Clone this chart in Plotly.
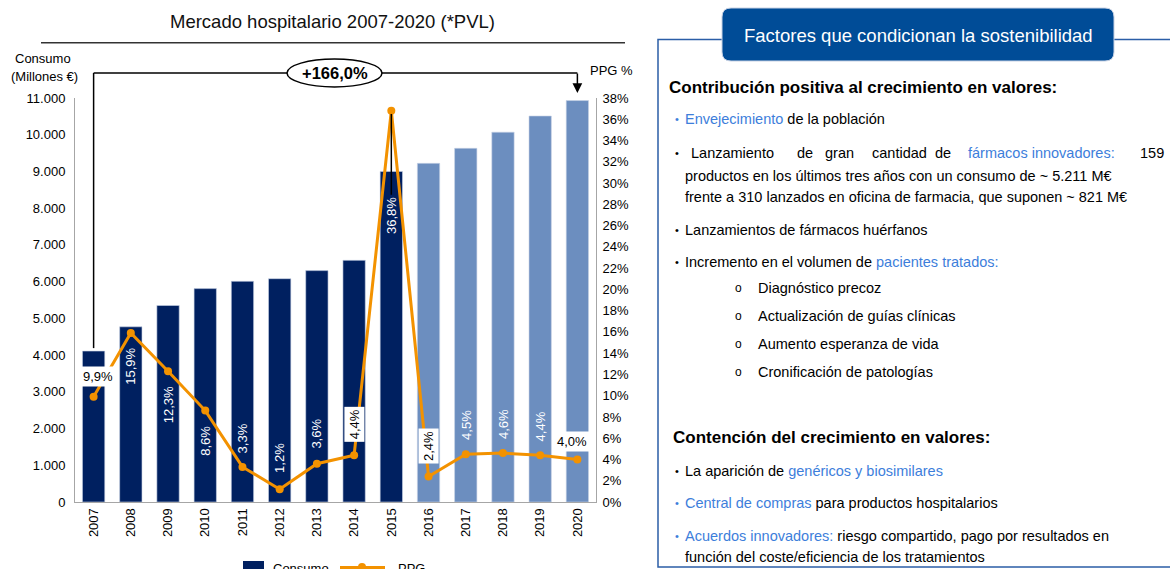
import plotly.graph_objects as go

# ---------------- data ----------------
years = ["2007", "2008", "2009", "2010", "2011", "2012", "2013",
         "2014", "2015", "2016", "2017", "2018", "2019", "2020"]
consumo = [4110, 4770, 5350, 5810, 6010, 6080, 6300,
           6580, 9000, 9220, 9630, 10070, 10510, 10930]
ppg = [9.9, 15.9, 12.3, 8.6, 3.3, 1.2, 3.6,
       4.4, 36.8, 2.4, 4.5, 4.6, 4.4, 4.0]
is_forecast = [False, False, False, False, False, False, False,
               False, False, True, True, True, True, True]
left_ticks = [0, 1000, 2000, 3000, 4000, 5000, 6000, 7000, 8000, 9000, 10000, 11000]
right_ticks = [0, 2, 4, 6, 8, 10, 12, 14, 16, 18, 20, 22, 24, 26, 28, 30, 32, 34, 36, 38]
growth_label = "+166,0%"

# ---------------- style ----------------
W, H = 1170, 569
FONT = "Liberation Sans, Arial, sans-serif"
NAVY = "#002060"
LIGHT = "#6C8EBF"
ORANGE = "#F39200"
AXIS = "#A6A6A6"
BLUE_TXT = "#3D7EDB"
PANEL = "#2B5EA7"
HEADER = "#004C97"


def P(x):
    return x / W


def Q(y):
    return 1 - y / H


fig = go.Figure()

fig.add_trace(go.Bar(
    x=years, y=consumo, width=0.6,
    marker=dict(color=[LIGHT if f else NAVY for f in is_forecast],
                line=dict(width=0.6, color="#C9D4E6")),
    name="Consumo", showlegend=False, hoverinfo="skip"))

fig.add_trace(go.Scatter(
    x=years, y=ppg, yaxis="y2", mode="lines+markers", name="PPG",
    line=dict(color=ORANGE, width=3), marker=dict(color=ORANGE, size=8),
    showlegend=False, hoverinfo="skip"))

annotations = []
shapes = []


def pa(x, y, s, size=13, color="black", xanchor="center", yanchor="middle", **kw):
    d = dict(x=P(x), y=Q(y), xref="paper", yref="paper", text=s, showarrow=False,
             xanchor=xanchor, yanchor=yanchor,
             font=dict(family=FONT, size=size, color=color))
    d.update(kw)
    annotations.append(d)


# ---- growth labels on bars ----
# (horizontal?, boxed?, vertical shift in px, horizontal shift in px)
label_place = [
    (True, True, 20, 4), (False, False, -33, 0), (False, False, -34, 0),
    (False, False, -30, 0), (False, False, 29, 0), (False, False, 31, 0),
    (False, False, 30, 0), (False, True, 31, 0), (False, False, -105, 0),
    (False, True, 30, 0), (False, False, 29, 0), (False, False, 29, 0),
    (False, False, 29, 0), (True, True, 18, -5)]
for i, v in enumerate(ppg):
    horiz, boxed, ys, xs = label_place[i]
    txt = f"{v:.1f}".replace(".", ",") + "%"
    annotations.append(dict(
        x=i, y=v, xref="x", yref="y2", text=txt, showarrow=False,
        xanchor="center", yanchor="middle",
        textangle=0 if horiz else -90, yshift=ys, xshift=xs,
        font=dict(family=FONT, size=13, color="black" if boxed else "white"),
        bgcolor="white" if boxed else "rgba(0,0,0,0)", borderpad=2))

# leader line at 2015 peak
shapes.append(dict(type="line", xref="x", yref="y2", x0=8, x1=8,
                   y0=ppg[8] - 0.3, y1=ppg[8] - 7.9,
                   line=dict(color="black", width=1.5)))

# ---- growth bracket ----
last = len(years) - 1
shapes.append(dict(type="line", xref="x", yref="y", x0=0, x1=0,
                   y0=consumo[0] + 80, y1=11000, line=dict(color="black", width=1.5)))
shapes.append(dict(type="line", xref="x", yref="paper", x0=0, x1=0,
                   y0=Q(98), y1=Q(73), line=dict(color="black", width=1.5)))
shapes.append(dict(type="line", xref="x", yref="paper", x0=0, x1=last,
                   y0=Q(73), y1=Q(73), line=dict(color="black", width=1.5)))
annotations.append(dict(x=last, y=Q(93), xref="x", yref="paper", text="",
                        showarrow=True, ax=0, ay=-21, arrowhead=2, arrowsize=1.3,
                        arrowwidth=1.5, arrowcolor="black"))
shapes.append(dict(type="circle", xref="paper", yref="paper",
                   x0=P(287), x1=P(382), y0=Q(87), y1=Q(59),
                   fillcolor="white", line=dict(color="black", width=1.5)))
pa(334.5, 73, f"<b>{growth_label}</b>", size=16.5)

# ---- title, axis titles ----
pa(332, 22, "Mercado hospitalario 2007-2020 (*PVL)", size=18.5, color="#111111")
shapes.append(dict(type="line", xref="paper", yref="paper", x0=P(41), x1=P(625),
                   y0=Q(42.7), y1=Q(42.7), line=dict(color="#333333", width=1.5)))
pa(13, 58, "Consumo", xanchor="left")
pa(9, 76, "(Millones €)", xanchor="left")
pa(611, 70, "PPG %")

# ---- legend (cut at the bottom edge) ----
shapes.append(dict(type="rect", xref="paper", yref="paper", x0=P(243), x1=P(264),
                   y0=Q(578), y1=Q(561), fillcolor=NAVY, line=dict(width=0)))
pa(271, 559, "Consumo", xanchor="left", yanchor="top")
shapes.append(dict(type="line", xref="paper", yref="paper", x0=P(340), x1=P(385),
                   y0=Q(568), y1=Q(568), line=dict(color=ORANGE, width=4)))
shapes.append(dict(type="circle", xref="paper", yref="paper", x0=P(358), x1=P(366),
                   y0=Q(571), y1=Q(563), fillcolor=ORANGE, line=dict(width=0)))
pa(396, 559, "PPG", xanchor="left", yanchor="top")

# ---- right panel ----
shapes.append(dict(type="rect", xref="paper", yref="paper", x0=P(658), x1=P(1185),
                   y0=Q(567), y1=Q(39.5), line=dict(color=PANEL, width=1.5),
                   fillcolor="rgba(0,0,0,0)"))
x0, x1, y0, y1, r = 722, 1114, 8, 61, 9
path = (f"M {P(x0 + r)},{Q(y0)} L {P(x1 - r)},{Q(y0)} Q {P(x1)},{Q(y0)} {P(x1)},{Q(y0 + r)} "
        f"L {P(x1)},{Q(y1 - r)} Q {P(x1)},{Q(y1)} {P(x1 - r)},{Q(y1)} "
        f"L {P(x0 + r)},{Q(y1)} Q {P(x0)},{Q(y1)} {P(x0)},{Q(y1 - r)} "
        f"L {P(x0)},{Q(y0 + r)} Q {P(x0)},{Q(y0)} {P(x0 + r)},{Q(y0)} Z")
shapes.append(dict(type="path", xref="paper", yref="paper", path=path,
                   fillcolor=HEADER, line=dict(color="#C8D2E4", width=1)))
pa(918, 35, "Factores que condicionan la sostenibilidad", size=18.5, color="white")


def blue(s):
    return f"<span style='color:{BLUE_TXT}'>{s}</span>"


def text(x, y, s, size=14.5, xanchor="left", color="black"):
    pa(x, y, s, size=size, color=color, xanchor=xanchor)


def bullet(y, color="black"):
    text(673, y, "•", size=11, color=color)


text(667, 87, "<b>Contribución positiva al crecimiento en valores:</b>", size=17)
bullet(119, BLUE_TXT)
text(683, 119, blue("Envejecimiento") + " de la población")
bullet(153)
for wx, w in [(689, "Lanzamiento"), (795, "de"), (823, "gran"), (870, "cantidad"), (933, "de")]:
    text(wx, 153, w)
text(966, 153, blue("fármacos innovadores:"))
text(1166, 153, "159", xanchor="right")
text(683, 176, "productos en los últimos tres años con un consumo de ~ 5.211 M€")
text(683, 197, "frente a 310 lanzados en oficina de farmacia, que suponen ~ 821 M€")
bullet(230)
text(683, 230, "Lanzamientos de fármacos huérfanos")
bullet(262)
text(683, 262, "Incremento en el volumen de " + blue("pacientes tratados:"))
for yy, s in [(288, "Diagnóstico precoz"), (316, "Actualización de guías clínicas"),
              (344, "Aumento esperanza de vida"), (372, "Cronificación de patologías")]:
    text(733, yy, "o", size=12)
    text(756, yy, s)
text(671, 437, "<b>Contención del crecimiento en valores:</b>", size=17)
bullet(471)
text(683, 471, "La aparición de " + blue("genéricos y biosimilares"))
bullet(503, BLUE_TXT)
text(683, 503, blue("Central de compras") + " para productos hospitalarios")
bullet(536, BLUE_TXT)
text(683, 536, blue("Acuerdos innovadores:") + " riesgo compartido, pago por resultados en")
text(683, 557, "función del coste/eficiencia de los tratamientos")

fig.update_layout(
    width=W, height=H, margin=dict(l=0, r=0, t=0, b=0),
    paper_bgcolor="white", plot_bgcolor="white",
    separators=",.", bargap=0.4, showlegend=False,
    font=dict(family=FONT, size=13, color="black"),
    xaxis=dict(domain=[P(75), P(596)], type="category", range=[-0.5, 13.5],
               categoryorder="array", categoryarray=years,
               showline=True, linecolor=AXIS, linewidth=1, ticks="",
               tickangle=-90, tickfont=dict(family=FONT, size=13, color="black"),
               showgrid=False, automargin=False, fixedrange=True),
    yaxis=dict(domain=[Q(502), Q(98)], range=[0, 11000], tickvals=left_ticks,
               tickformat=",d", showline=True, linecolor=AXIS, linewidth=1,
               ticks="", showgrid=False, zeroline=False, automargin=False,
               ticklabelstandoff=6,
               tickfont=dict(family=FONT, size=13, color="black"), fixedrange=True),
    yaxis2=dict(overlaying="y", side="right", anchor="x", range=[0, 38],
                tickvals=right_ticks, ticktext=[f"{t}%" for t in right_ticks],
                showline=True, linecolor=AXIS,
                linewidth=1, ticks="", showgrid=False, zeroline=False,
                automargin=False, ticklabelstandoff=3,
                tickfont=dict(family=FONT, size=13, color="black"), fixedrange=True),
    annotations=annotations, shapes=shapes,
)

fig.write_html("out.html", config={"displayModeBar": False},
               post_script="document.body.style.margin='0';")
